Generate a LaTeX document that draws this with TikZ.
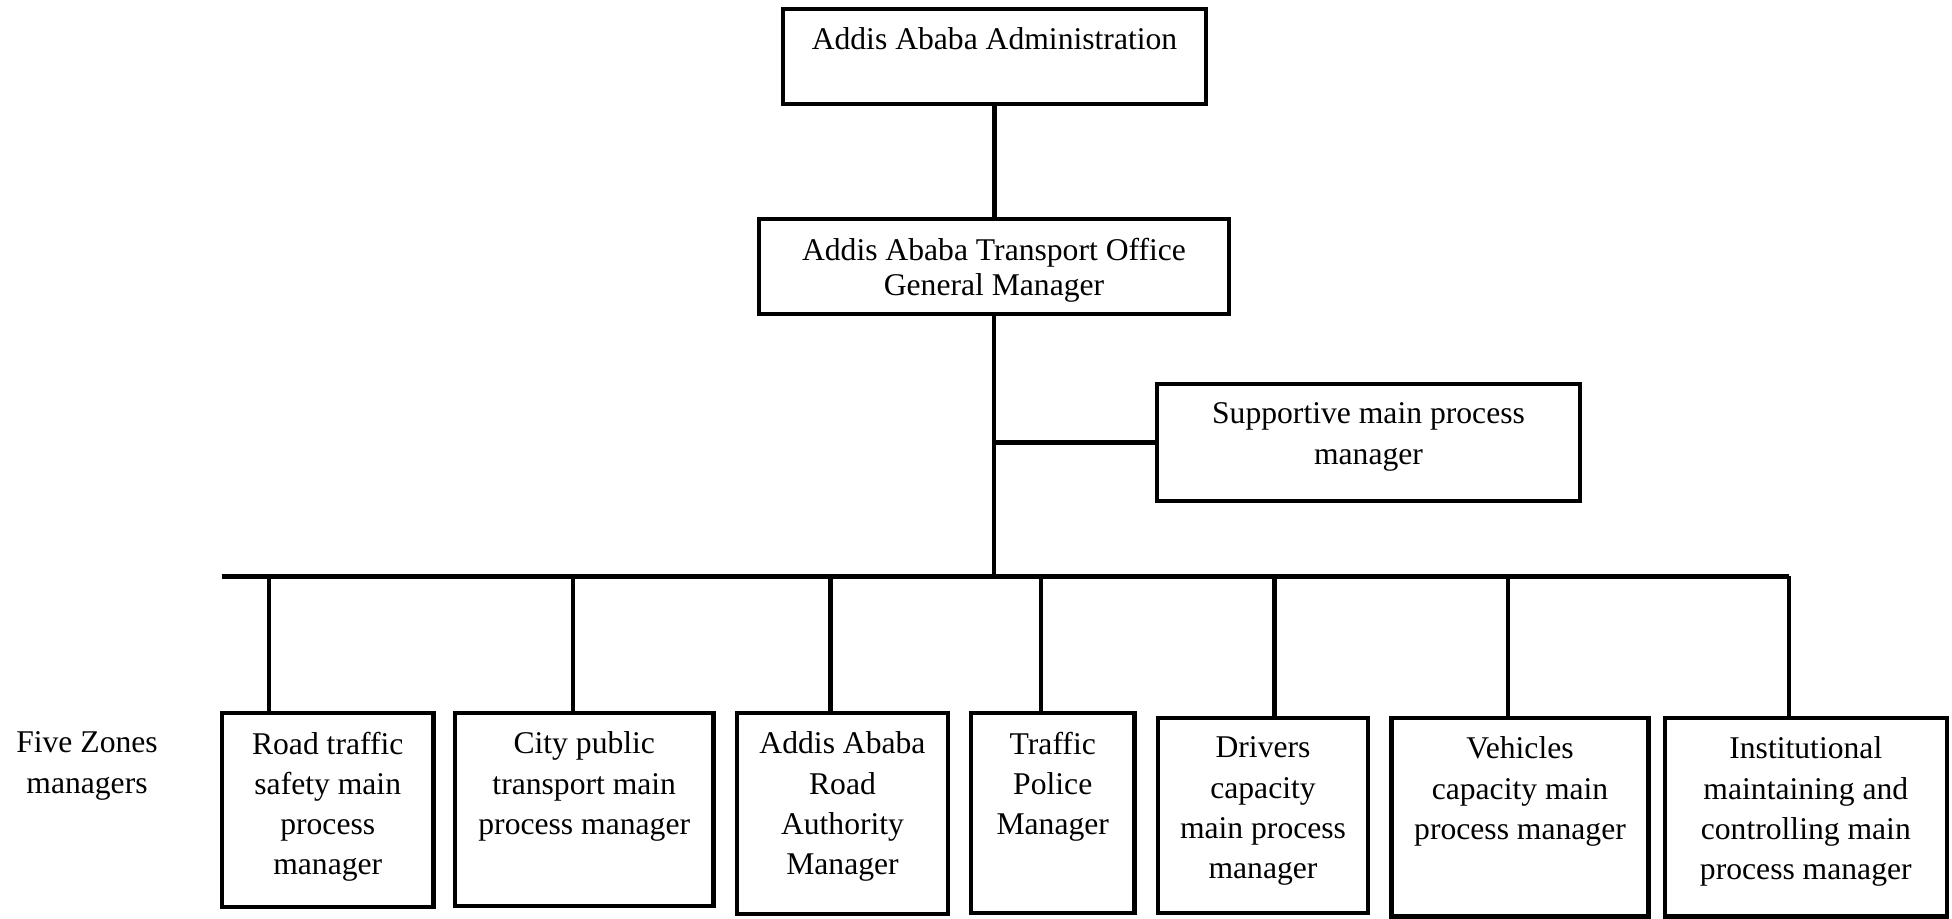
\documentclass[tikz,border=0pt]{standalone}
\usepackage{fontspec}
\setmainfont{Liberation Serif}
\newcommand{\boxtext}[4]{\parbox[c][#2][t]{#1}{\centering\fontsize{9}{#3}\selectfont\vspace*{0.19cm}#4}}
\tikzset{
  box/.style={draw, line width=1.2pt, inner sep=0pt, outer sep=0pt},
  conn/.style={line width=1.2pt},
}
\begin{document}
\begin{tikzpicture}
\useasboundingbox (0,0) rectangle (19.52,-9.19);
% boxes
\node[box] (top) at (9.945,-0.565) {\boxtext{4.23cm}{0.95cm}{11.4pt}{Addis Ababa Administration}};
\node[box] (gm) at (9.94,-2.665) {\boxtext{4.70cm}{0.95cm}{10pt}{Addis Ababa Transport Office\\General Manager}};
\node[box] (sup) at (13.685,-4.425) {\boxtext{4.23cm}{1.17cm}{11.4pt}{Supportive main process\\manager}};
\node[box] (n1) at (3.2775,-8.10) {\boxtext{2.115cm}{1.94cm}{11.4pt}{Road traffic\\safety main\\process\\manager}};
\node[box] (n2) at (5.8425,-8.095) {\boxtext{2.585cm}{1.93cm}{11.4pt}{City public\\transport main\\process manager}};
\node[box] (n3) at (8.425,-8.135) {\boxtext{2.11cm}{2.01cm}{11.4pt}{Addis Ababa\\Road\\Authority\\Manager}};
\node[box] (n4) at (10.5275,-8.13) {\boxtext{1.635cm}{2.0cm}{11.4pt}{Traffic\\Police\\Manager}};
\node[box] (n5) at (12.63,-8.155) {\boxtext{2.10cm}{1.95cm}{11.4pt}{Drivers\\capacity\\main process\\manager}};
\node[box] (n6) at (15.2,-8.1725) {\boxtext{2.57cm}{1.985cm}{11.4pt}{Vehicles\\capacity main\\process manager}};
\node[box] (n7) at (18.058,-8.1725) {\boxtext{2.816cm}{1.985cm}{11.4pt}{Institutional\\maintaining and\\controlling main\\process manager}};
\node[anchor=north, align=center, inner sep=0pt, font=\fontsize{9}{11.6}\selectfont] (zones) at (0.87,-7.31) {Five Zones\\managers};
% bus
\coordinate (busL) at (2.216,-5.765);
\coordinate (busR) at (17.89,-5.765);
\coordinate (s1) at (2.69,-5.765);
\coordinate (s2) at (5.73,-5.765);
\coordinate (s3) at (8.305,-5.765);
\coordinate (s4) at (10.41,-5.765);
\coordinate (s5) at (12.745,-5.765);
\coordinate (s6) at (15.08,-5.765);
% connectors
\draw[conn] (top.south) -- (top.south |- gm.north);
\draw[conn] (gm.south) -- (gm.south |- busL);
\draw[conn] (gm.south |- sup.west) -- (sup.west);
\draw[conn] (busL) -- (busR);
\draw[conn] (s1) -- (s1 |- n1.north);
\draw[conn] (s2) -- (s2 |- n2.north);
\draw[conn] (s3) -- (s3 |- n3.north);
\draw[conn] (s4) -- (s4 |- n4.north);
\draw[conn] (s5) -- (s5 |- n5.north);
\draw[conn] (s6) -- (s6 |- n6.north);
\draw[conn] (busR) -- (busR |- n7.north);
\end{tikzpicture}
\end{document}
